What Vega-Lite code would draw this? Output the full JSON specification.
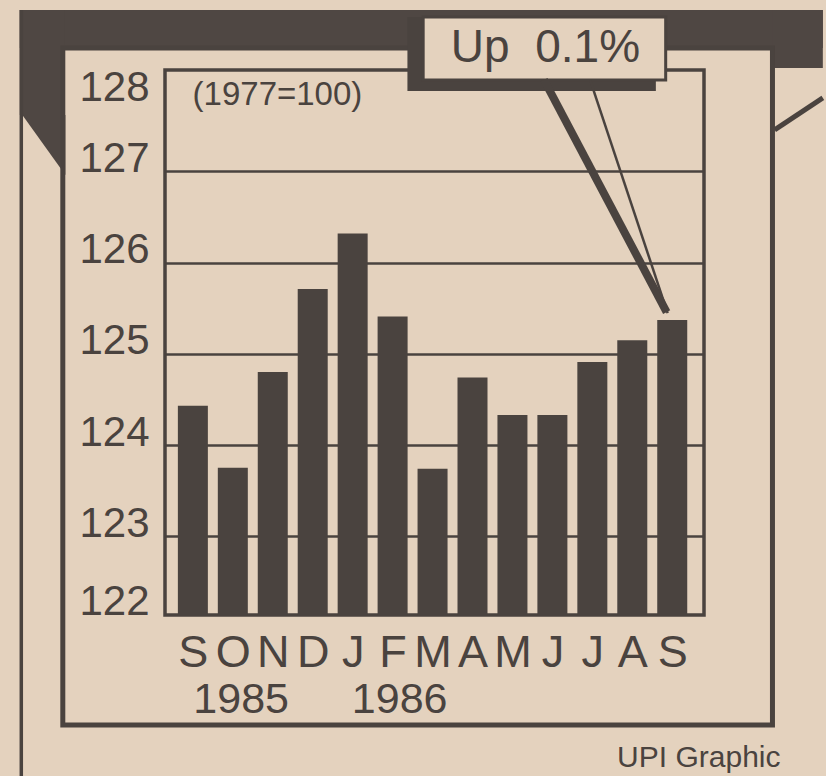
{
  "$schema": "https://vega.github.io/schema/vega-lite/v6.json",
  "autosize": "none",
  "padding": {"left": 165, "top": 70, "right": 122, "bottom": 161},
  "width": 539,
  "height": 545,
  "background": "#e4d2be",
  "config": {
    "view": {"stroke": "#4a433f", "strokeWidth": 3.5},
    "font": "Liberation Sans",
    "text": {"font": "Liberation Sans", "color": "#4a433f"}
  },
  "datasets": {
    "index": [
      {"i": 0, "month": "1985-09", "value": 124.43},
      {"i": 1, "month": "1985-10", "value": 123.75},
      {"i": 2, "month": "1985-11", "value": 124.80},
      {"i": 3, "month": "1985-12", "value": 125.71},
      {"i": 4, "month": "1986-01", "value": 126.32},
      {"i": 5, "month": "1986-02", "value": 125.41},
      {"i": 6, "month": "1986-03", "value": 123.74},
      {"i": 7, "month": "1986-04", "value": 124.74},
      {"i": 8, "month": "1986-05", "value": 124.33},
      {"i": 9, "month": "1986-06", "value": 124.33},
      {"i": 10, "month": "1986-07", "value": 124.91},
      {"i": 11, "month": "1986-08", "value": 125.15},
      {"i": 12, "month": "1986-09", "value": 125.37}
    ],
    "one": [{}]
  },
  "data": {"name": "one"},
  "layer": [
    {
      "data": {"name": "index"},
      "mark": {"type": "bar", "color": "#4a433f", "size": 30},
      "encoding": {
        "x": {
          "field": "i",
          "type": "quantitative",
          "scale": {"domain": [-0.5725, 12.67], "nice": false, "zero": false},
          "axis": {
            "values": [0, 1, 2, 3, 4, 5, 6, 7, 8, 9, 10, 11, 12],
            "labelExpr": "substring('SONDJFMAMJJAS', datum.value, datum.value + 1)",
            "title": null,
            "ticks": false,
            "tickSize": 0,
            "domain": false,
            "grid": false,
            "labelFont": "Liberation Sans",
            "labelFontSize": 45,
            "labelColor": "#4a433f",
            "labelBaseline": "alphabetic",
            "labelAlign": "center",
            "labelPadding": 51,
            "labelFlush": false,
            "labelOverlap": false
          }
        },
        "y": {
          "field": "value",
          "type": "quantitative",
          "scale": {"domain": [122.137, 128.111], "nice": false, "zero": false},
          "axis": {
            "values": [122.14, 123, 124, 125, 126, 127, 127.782],
            "labelExpr": "format(round(datum.value), 'd')",
            "title": null,
            "ticks": false,
            "tickSize": 0,
            "domain": false,
            "grid": true,
            "gridColor": "#4a433f",
            "gridWidth": 2.5,
            "gridOpacity": {"condition": {"test": "datum.value < 122.5 || datum.value > 127.5", "value": 0}, "value": 1},
            "labelFont": "Liberation Sans",
            "labelFontSize": 42,
            "labelColor": "#4a433f",
            "labelBaseline": "alphabetic",
            "labelPadding": 16,
            "labelFlush": false,
            "labelOverlap": false
          }
        },
        "y2": {"datum": 122.137}
      }
    },
    {
      "mark": {"type": "rect", "color": "#4f4743"},
      "encoding": {
        "x": {"datum": -4.332, "type": "quantitative"},
        "x2": {"datum": 15.77},
        "y": {"datum": 128.769, "type": "quantitative"},
        "y2": {"datum": 128.352}
      }
    },
    {
      "mark": {"type": "rect", "color": "#4f4743"},
      "encoding": {
        "x": {"datum": -4.332, "type": "quantitative"},
        "x2": {"datum": -3.201},
        "y": {"datum": 128.769, "type": "quantitative"},
        "y2": {"datum": 127.618}
      }
    },
    {
      "mark": {"type": "point", "shape": "M -0.7167 -1 L 0.7167 -1 L 0.7167 1 Z", "filled": true, "size": 3600, "color": "#4f4743", "opacity": 1, "strokeWidth": 0},
      "encoding": {
        "x": {"datum": -3.730, "type": "quantitative"},
        "y": {"datum": 127.289, "type": "quantitative"}
      }
    },
    {
      "mark": {"type": "rect", "color": "#4f4743"},
      "encoding": {
        "x": {"datum": 14.514, "type": "quantitative"},
        "x2": {"datum": 15.77},
        "y": {"datum": 128.769, "type": "quantitative"},
        "y2": {"datum": 128.133}
      }
    },
    {
      "mark": {"type": "rule", "color": "#4a433f", "strokeWidth": 3.5},
      "encoding": {
        "x": {"datum": -4.295, "type": "quantitative"},
        "y": {"datum": 128.769, "type": "quantitative"},
        "y2": {"datum": 120.329}
      }
    },
    {
      "mark": {"type": "rect", "fillOpacity": 0, "stroke": "#4a433f", "strokeWidth": 5},
      "encoding": {
        "x": {"datum": -3.256, "type": "quantitative"},
        "x2": {"datum": 14.509},
        "y": {"datum": 128.352, "type": "quantitative"},
        "y2": {"datum": 120.932}
      }
    },
    {
      "mark": {"type": "rule", "color": "#4a433f", "strokeWidth": 5},
      "encoding": {
        "x": {"datum": 14.563, "type": "quantitative"},
        "x2": {"datum": 15.77},
        "y": {"datum": 127.454, "type": "quantitative"},
        "y2": {"datum": 127.805}
      }
    },
    {
      "mark": {"type": "rect", "color": "#4a433f"},
      "encoding": {
        "x": {"datum": 5.371, "type": "quantitative"},
        "x2": {"datum": 11.590},
        "y": {"datum": 128.692, "type": "quantitative"},
        "y2": {"datum": 127.881}
      }
    },
    {
      "mark": {"type": "rect", "fill": "#e4d2be", "stroke": "#4a433f", "strokeWidth": 3},
      "encoding": {
        "x": {"datum": 5.765, "type": "quantitative"},
        "x2": {"datum": 11.836},
        "y": {"datum": 128.692, "type": "quantitative"},
        "y2": {"datum": 128.002}
      }
    },
    {
      "mark": {"type": "rule", "color": "#4a433f", "strokeWidth": 8},
      "encoding": {
        "x": {"datum": 8.789, "type": "quantitative"},
        "x2": {"datum": 11.860},
        "y": {"datum": 128.002, "type": "quantitative"},
        "y2": {"datum": 125.458}
      }
    },
    {
      "mark": {"type": "rule", "color": "#4a433f", "strokeWidth": 2.5},
      "encoding": {
        "x": {"datum": 9.943, "type": "quantitative"},
        "x2": {"datum": 11.885},
        "y": {"datum": 128.002, "type": "quantitative"},
        "y2": {"datum": 125.447}
      }
    },
    {
      "mark": {"type": "text", "fontSize": 46, "align": "center", "baseline": "alphabetic"},
      "encoding": {
        "x": {"datum": 8.826, "type": "quantitative"},
        "y": {"datum": 128.199, "type": "quantitative"},
        "text": {"value": "Up\u00a0 0.1%"}
      }
    },
    {
      "mark": {"type": "text", "fontSize": 33, "letterSpacing": 1.5, "align": "left", "baseline": "alphabetic"},
      "encoding": {
        "x": {"datum": -0.007, "type": "quantitative"},
        "y": {"datum": 127.728, "type": "quantitative"},
        "text": {"value": "(1977=100)"}
      }
    },
    {
      "mark": {"type": "text", "fontSize": 43, "align": "center", "baseline": "alphabetic"},
      "encoding": {
        "x": {"datum": 1.209, "type": "quantitative"},
        "y": {"datum": 121.063, "type": "quantitative"},
        "text": {"value": "1985"}
      }
    },
    {
      "mark": {"type": "text", "fontSize": 43, "align": "center", "baseline": "alphabetic"},
      "encoding": {
        "x": {"datum": 5.177, "type": "quantitative"},
        "y": {"datum": 121.063, "type": "quantitative"},
        "text": {"value": "1986"}
      }
    },
    {
      "mark": {"type": "text", "fontSize": 30, "align": "right", "baseline": "alphabetic"},
      "encoding": {
        "x": {"datum": 14.71, "type": "quantitative"},
        "y": {"datum": 120.471, "type": "quantitative"},
        "text": {"value": "UPI Graphic"}
      }
    }
  ]
}
